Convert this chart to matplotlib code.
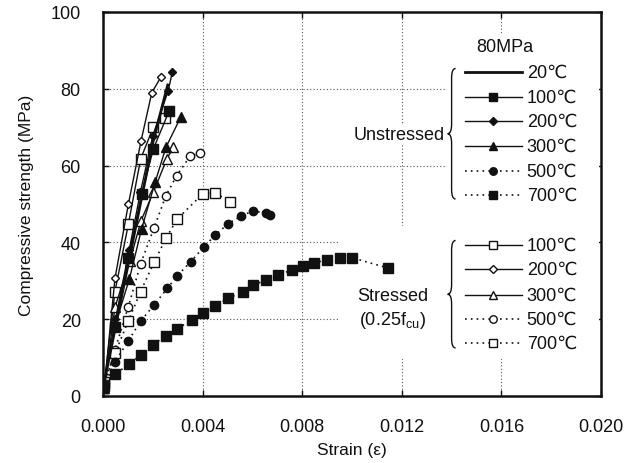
import matplotlib
matplotlib.use("Agg")
import matplotlib.pyplot as plt
from matplotlib.path import Path
from matplotlib.patches import PathPatch

plt.rcParams['font.family'] = ['Liberation Sans', 'DejaVu Sans']
plt.rcParams['mathtext.fontset'] = 'custom'
plt.rcParams['mathtext.rm'] = 'Liberation Sans'

# unstressed specimens (strain, MPa)
u20_x = [0.0, 0.0010, 0.0020, 0.0026]
u20_y = [2.0, 34.0, 66.0, 81.0]
u100_x = [0.0, 0.00048, 0.00102, 0.00155, 0.00202, 0.00266]
u100_y = [2.0, 18.0, 36.0, 52.5, 64.3, 74.3]
u200_x = [0.0, 0.00050, 0.00105, 0.00150, 0.00200, 0.00262, 0.00278]
u200_y = [2.0, 20.0, 38.0, 53.0, 67.8, 79.5, 84.3]
u300_x = [0.0, 0.00048, 0.00106, 0.00155, 0.00209, 0.00253, 0.00312]
u300_y = [2.0, 18.3, 30.5, 43.5, 55.6, 64.8, 72.6]
u500_x = [0.00005, 0.00048, 0.00102, 0.00151, 0.00205, 0.00259, 0.00298, 0.00353,
          0.00406, 0.00451, 0.00503, 0.00554, 0.00601, 0.00653, 0.00671]
u500_y = [2.5, 8.9, 14.4, 19.5, 23.7, 28.1, 31.3, 35.0, 38.9, 41.9, 44.9, 46.8,
          48.2, 47.6, 47.1]
u700_x = [0.00005, 0.00048, 0.00106, 0.00151, 0.00202, 0.00253, 0.00298, 0.00356,
          0.00400, 0.00450, 0.00503, 0.00563, 0.00604, 0.00655, 0.00704, 0.00758,
          0.00804, 0.00848, 0.00898, 0.00952, 0.01000, 0.01146]
u700_y = [2.7, 5.7, 8.3, 10.7, 13.4, 15.7, 17.4, 19.9, 21.6, 23.4, 25.5, 27.1,
          28.8, 30.3, 31.5, 32.8, 33.9, 34.7, 35.4, 36.0, 36.0, 33.3]

# stressed specimens (0.25 fcu)
s100_x = [0.00005, 0.00048, 0.00102, 0.00151, 0.00202, 0.00249]
s100_y = [3.0, 27.2, 44.8, 61.7, 70.0, 72.3]
s200_x = [0.00005, 0.00048, 0.00102, 0.00153, 0.00196, 0.00232]
s200_y = [2.0, 30.6, 50.0, 66.5, 79.0, 83.0]
s300_x = [0.00005, 0.00048, 0.00108, 0.00153, 0.00202, 0.00256, 0.00283]
s300_y = [2.0, 23.1, 35.2, 45.7, 53.0, 61.7, 64.8]
s500_x = [0.00005, 0.00048, 0.00102, 0.00151, 0.00205, 0.00253, 0.00296, 0.00349, 0.00390]
s500_y = [2.5, 12.0, 23.3, 34.4, 43.8, 52.2, 57.4, 62.4, 63.3]
s700_x = [0.00005, 0.00048, 0.00102, 0.00151, 0.00205, 0.00253, 0.00298, 0.00400,
          0.00450, 0.00510]
s700_y = [3.6, 11.1, 19.6, 27.2, 34.8, 41.1, 46.1, 52.6, 52.9, 50.6]

temps_u = ['20℃', '100℃', '200℃', '300℃', '500℃', '700℃']
temps_s = ['100℃', '200℃', '300℃', '500℃', '700℃']

dot = (0, (1, 2.5))
ink = '#111111'

fig = plt.figure(figsize=(6.41, 4.64), dpi=100)
ax = fig.add_axes([0.1607, 0.1444, 0.7769, 0.8276])

unstressed = [
    (u20_x, u20_y, '-', None, ink, 2.0),
    (u100_x, u100_y, '-', 's', ink, 1.0),
    (u200_x, u200_y, '-', 'D', ink, 1.0),
    (u300_x, u300_y, '-', '^', ink, 1.0),
    (u500_x, u500_y, dot, 'o', ink, 1.2),
    (u700_x, u700_y, dot, 's', ink, 1.2),
]
stressed = [
    (s100_x, s100_y, '-', 's', 'white', 1.0),
    (s200_x, s200_y, '-', 'D', 'white', 1.0),
    (s300_x, s300_y, '-', '^', 'white', 1.0),
    (s500_x, s500_y, dot, 'o', 'white', 1.2),
    (s700_x, s700_y, dot, 's', 'white', 1.2),
]
msize = {'s': 6.5, 'D': 4.5, '^': 6.5, 'o': 6}

for xs, ys, ls, mk, fc, lw in stressed + unstressed:
    ax.plot(xs, ys, linestyle=ls, color=ink, lw=lw, marker=mk,
            markersize=msize.get(mk, 6), markerfacecolor=fc,
            markeredgecolor=ink, markeredgewidth=1.0, clip_on=True, zorder=2)

ax.set_xlim(0, 0.020)
ax.set_ylim(0, 100)
ax.set_xticks([0.000, 0.004, 0.008, 0.012, 0.016, 0.020])
ax.set_xticklabels(['0.000', '0.004', '0.008', '0.012', '0.016', '0.020'])
ax.set_yticks([0, 20, 40, 60, 80, 100])
ax.tick_params(direction='in', length=4, width=1, labelsize=13,
               colors=ink, pad=16, top=True, right=True)
ax.grid(True, linestyle=(0, (1, 2)), color='#555555', linewidth=0.8)
for sp in ax.spines.values():
    sp.set_linewidth(1.8)
    sp.set_color(ink)
ax.set_xlabel('Strain (ε)', fontsize=12.5, color=ink, labelpad=5)
ax.set_ylabel('Compressive strength (MPa)', fontsize=12.5, color=ink, labelpad=12)

# white area behind the legend hides the grid (kept under the data lines)
ax.add_patch(plt.Rectangle((0.69, 0.443), 0.305, 0.50, transform=ax.transAxes,
                           facecolor='white', edgecolor='none', zorder=1.8))
ax.add_patch(plt.Rectangle((0.476, 0.096), 0.519, 0.347, transform=ax.transAxes,
                           facecolor='white', edgecolor='none', zorder=1.8))

# hand-made legend, in axes fraction
lx0, lx1, lxm, ltx = 0.727, 0.8407, 0.7837, 0.851
rows_u = [0.8438, 0.7786, 0.7161, 0.651, 0.5859, 0.5234]
rows_s = [0.3932, 0.3307, 0.263, 0.2005, 0.138]


def legend_row(y, spec, label):
    xs, ys, ls, mk, fc, lw = spec
    ax.plot([lx0, lx1], [y, y], transform=ax.transAxes, linestyle=ls,
            color=ink, lw=lw, clip_on=False, zorder=4)
    if mk is not None:
        ax.plot([lxm], [y], transform=ax.transAxes, marker=mk,
                markersize=msize[mk] * 0.9, markerfacecolor=fc,
                markeredgecolor=ink, clip_on=False, zorder=5, linestyle='none')
    ax.text(ltx, y, label, transform=ax.transAxes, fontsize=13, color=ink,
            va='center', ha='left', zorder=5)


for y, spec, lab in zip(rows_u, unstressed, temps_u):
    legend_row(y, spec, lab)
for y, spec, lab in zip(rows_s, stressed, temps_s):
    legend_row(y, spec, lab)


def brace(x0, ytop, ybot, w=0.016):
    ym = (ytop + ybot) / 2
    r = 0.025
    xm = x0 + w / 2
    verts = [(x0 + w, ytop), (xm, ytop), (xm, ytop - r),
             (xm, ym + r), (xm, ym), (x0, ym),
             (xm, ym), (xm, ym - r),
             (xm, ybot + r), (xm, ybot), (x0 + w, ybot)]
    codes = [Path.MOVETO, Path.CURVE3, Path.CURVE3,
             Path.LINETO, Path.CURVE3, Path.CURVE3,
             Path.CURVE3, Path.CURVE3,
             Path.LINETO, Path.CURVE3, Path.CURVE3]
    ax.add_patch(PathPatch(Path(verts, codes), transform=ax.transAxes,
                           facecolor='none', edgecolor=ink, lw=1.0,
                           zorder=5, clip_on=False))


brace(0.692, 0.853, 0.513)
brace(0.692, 0.405, 0.125)

box = dict(facecolor='white', edgecolor='none', pad=1)
ax.text(0.807, 0.909, '80MPa', transform=ax.transAxes, fontsize=13,
        ha='center', va='center', color=ink, zorder=5)
ax.text(0.686, 0.682, 'Unstressed', transform=ax.transAxes, fontsize=13,
        ha='right', va='center', color=ink, zorder=5, bbox=box)
ax.text(0.582, 0.263, 'Stressed', transform=ax.transAxes, fontsize=13,
        ha='center', va='center', color=ink, zorder=5)
ax.text(0.582, 0.2005, r'(0.25f$_{\mathregular{cu}}$)', transform=ax.transAxes,
        fontsize=13, ha='center', va='center', color=ink, zorder=5)

fig.savefig('out.png', dpi=100)
